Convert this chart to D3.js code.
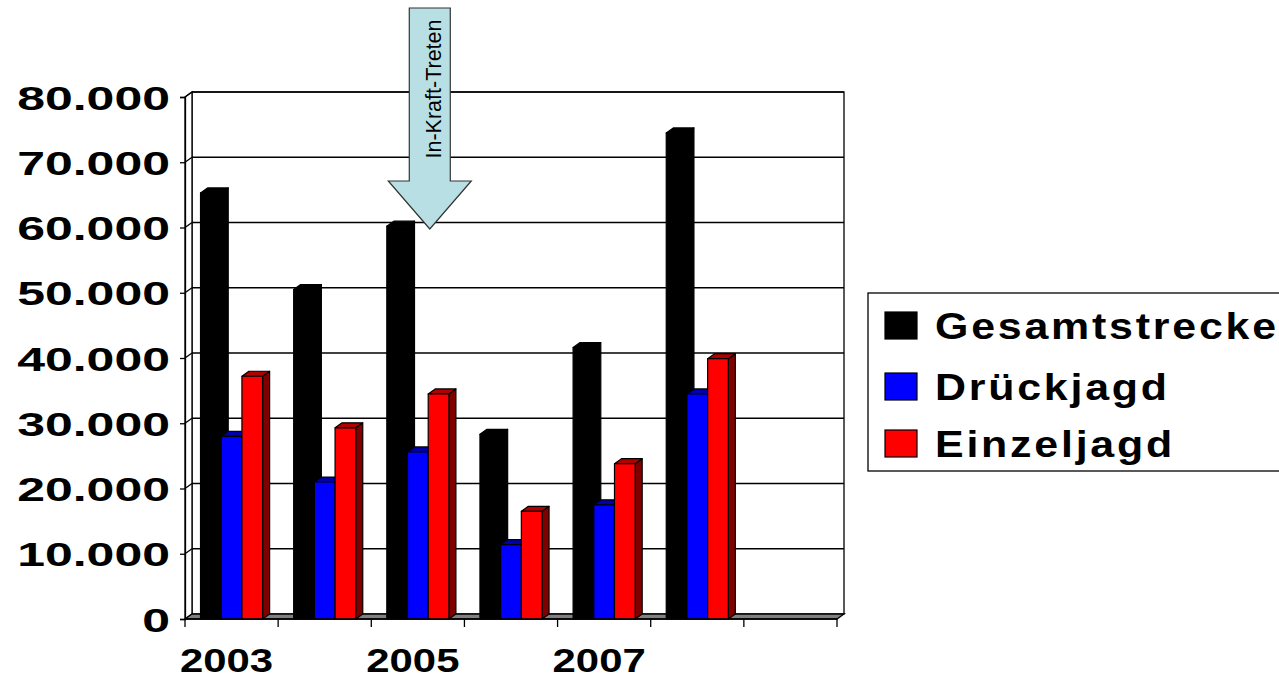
<!DOCTYPE html>
<html>
<head>
<meta charset="utf-8">
<script src="https://cdn.jsdelivr.net/npm/d3@7"></script>
<style>
  html, body { margin: 0; padding: 0; background: #fff; }
  svg { display: block; font-family: "Liberation Sans", Arial, sans-serif; }
</style>
</head>
<body>
<svg id="chart" width="1279" height="680"></svg>
<script>
// Jagdstrecke per year (last slot left empty)
const categories = ["2003", "2004", "2005", "2006", "2007", "2008", ""];
const xLabels = ["2003", "2005", "2007"];
const seriesNames = ["Gesamtstrecke", "Drückjagd", "Einzeljagd"];
const gesamtstrecke = [65300, 50500, 60200, 28300, 41600, 74500, null];
const drueckjagd    = [28000, 21000, 25600, 11400, 17500, 34500, null];
const einzeljagd    = [37200, 29300, 34500, 16500, 23800, 39900, null];
const yTicks = [0, 10000, 20000, 30000, 40000, 50000, 60000, 70000, 80000];
const annotation = "In-Kraft-Treten";

const seriesValues = [gesamtstrecke, drueckjagd, einzeljagd];
const colors = [
  { front: "#000000", side: "#000000", top: "#000000" },
  { front: "#0000ff", side: "#000080", top: "#0000a8" },
  { front: "#ff0000", side: "#800000", top: "#b00000" }
];

const svg = d3.select("#chart");
const de = d3.formatLocale({ decimal: ",", thousands: ".", grouping: [3], currency: ["", " €"] });
const fmt = de.format(",");

// 3D depth offset of the back wall relative to the front plane
const dx = 7, dy = -5;

const x = d3.scaleBand().domain(categories).range([185, 837]).paddingInner(0).paddingOuter(0);
const y = d3.scaleLinear().domain([0, 80000]).range([619, 97]);
const bw = x.bandwidth();
const s = d3.scaleBand().domain(seriesNames).range([bw / 6, bw * 5 / 6]).padding(0);

const left = x.range()[0], right = x.range()[1];
const y0 = y(0), yTop = y(80000);

// walls
const walls = svg.append("g");
walls.append("rect")
  .attr("x", left + dx).attr("y", yTop + dy)
  .attr("width", right - left).attr("height", y0 - yTop)
  .attr("fill", "#fff").attr("stroke", "#000").attr("stroke-width", 1.3);
walls.append("polygon")
  .attr("points", [[left, yTop], [left + dx, yTop + dy], [left + dx, y0 + dy], [left, y0]].join(" "))
  .attr("fill", "#fff").attr("stroke", "#000").attr("stroke-width", 1.3);

// gridlines on back and side wall
const grid = svg.append("g").attr("stroke", "#000").attr("stroke-width", 1.3);
yTicks.filter(t => t > 0).forEach(t => {
  grid.append("line").attr("x1", left + dx).attr("x2", right + dx)
    .attr("y1", y(t) + dy).attr("y2", y(t) + dy);
  grid.append("line").attr("x1", left).attr("x2", left + dx)
    .attr("y1", y(t)).attr("y2", y(t) + dy);
});

// floor
svg.append("polygon")
  .attr("points", [[left, y0], [left + dx, y0 + dy], [right + dx, y0 + dy], [right, y0]].join(" "))
  .attr("fill", "#808080").attr("stroke", "#000").attr("stroke-width", 1.3);

// bars
const bars = svg.append("g");
categories.forEach((c, i) => {
  seriesValues.forEach((vals, k) => {
    const v = vals[i];
    if (v == null) return;
    const bx = x(c) + s(seriesNames[k]);
    const w = s.bandwidth();
    const yv = y(v);
    const col = colors[k];
    const g = bars.append("g").attr("stroke", "#000").attr("stroke-width", 1.2).attr("stroke-linejoin", "round");
    g.append("polygon")
      .attr("points", [[bx + w, yv], [bx + w + dx, yv + dy], [bx + w + dx, y0 + dy], [bx + w, y0]].join(" "))
      .attr("fill", col.side);
    g.append("polygon")
      .attr("points", [[bx, yv], [bx + dx, yv + dy], [bx + w + dx, yv + dy], [bx + w, yv]].join(" "))
      .attr("fill", col.top);
    g.append("rect")
      .attr("x", bx).attr("y", yv).attr("width", w).attr("height", y0 - yv)
      .attr("fill", col.front);
  });
});

// value axis
const yAxis = svg.append("g").attr("transform", `translate(${left},0)`)
  .call(d3.axisLeft(y).tickValues(yTicks).tickSize(5).tickPadding(14).tickFormat(fmt));
yAxis.select(".domain").attr("stroke-width", 1.3);
yAxis.selectAll(".tick line").attr("stroke-width", 1.3);
yAxis.selectAll(".tick text")
  .attr("font-size", 34).attr("font-weight", "bold").attr("fill", "#000")
  .attr("font-family", "'Liberation Sans', Arial, sans-serif")
  .attr("x", null).attr("dy", "0.36em")
  .attr("transform", "translate(-15,0) scale(1.47,1)");

// category axis
const xAxis = svg.append("g");
xAxis.append("line").attr("x1", left).attr("x2", right).attr("y1", y0).attr("y2", y0)
  .attr("stroke", "#000").attr("stroke-width", 1.3);
categories.concat(["end"]).forEach((c, i) => {
  const xp = i < categories.length ? x(c) : right;
  xAxis.append("line").attr("x1", xp).attr("x2", xp).attr("y1", y0).attr("y2", y0 + 8)
    .attr("stroke", "#000").attr("stroke-width", 1.3);
});
xLabels.forEach(lab => {
  const cx = x(lab) + bw / 2 - 5;
  xAxis.append("text")
    .attr("transform", `translate(${cx},672) scale(1.27,1)`)
    .attr("text-anchor", "middle")
    .attr("font-size", 33).attr("font-weight", "bold")
    .text(lab);
});

// annotation arrow
const ax = x("2005");
const arrow = svg.append("g");
arrow.append("polygon")
  .attr("points", [[ax + 38, 8], [ax + 79, 8], [ax + 79, 181], [ax + 100, 181], [ax + 58.5, 229], [ax + 17, 181], [ax + 38, 181]].join(" "))
  .attr("fill", "#b8e0e4").attr("stroke", "#333").attr("stroke-width", 1.2);
arrow.append("text")
  .attr("transform", `translate(${ax + 70},89) rotate(-90)`)
  .attr("text-anchor", "middle")
  .attr("font-size", 21.5)
  .text(annotation);

// legend
const legend = svg.append("g");
legend.append("rect").attr("x", 868).attr("y", 293).attr("width", 430).attr("height", 178)
  .attr("fill", "#fff").attr("stroke", "#000").attr("stroke-width", 1.3);
const baselines = [339, 400, 457];
seriesNames.forEach((n, k) => {
  legend.append("rect").attr("x", 885).attr("y", baselines[k] - 27).attr("width", 32).attr("height", 27)
    .attr("fill", colors[k].front).attr("stroke", "#000").attr("stroke-width", 1.2);
  legend.append("text")
    .attr("transform", `translate(935,${baselines[k]}) scale(1.16,1)`)
    .attr("font-size", 37).attr("font-weight", "bold").attr("letter-spacing", 2.4)
    .text(n);
});
</script>
</body>
</html>
